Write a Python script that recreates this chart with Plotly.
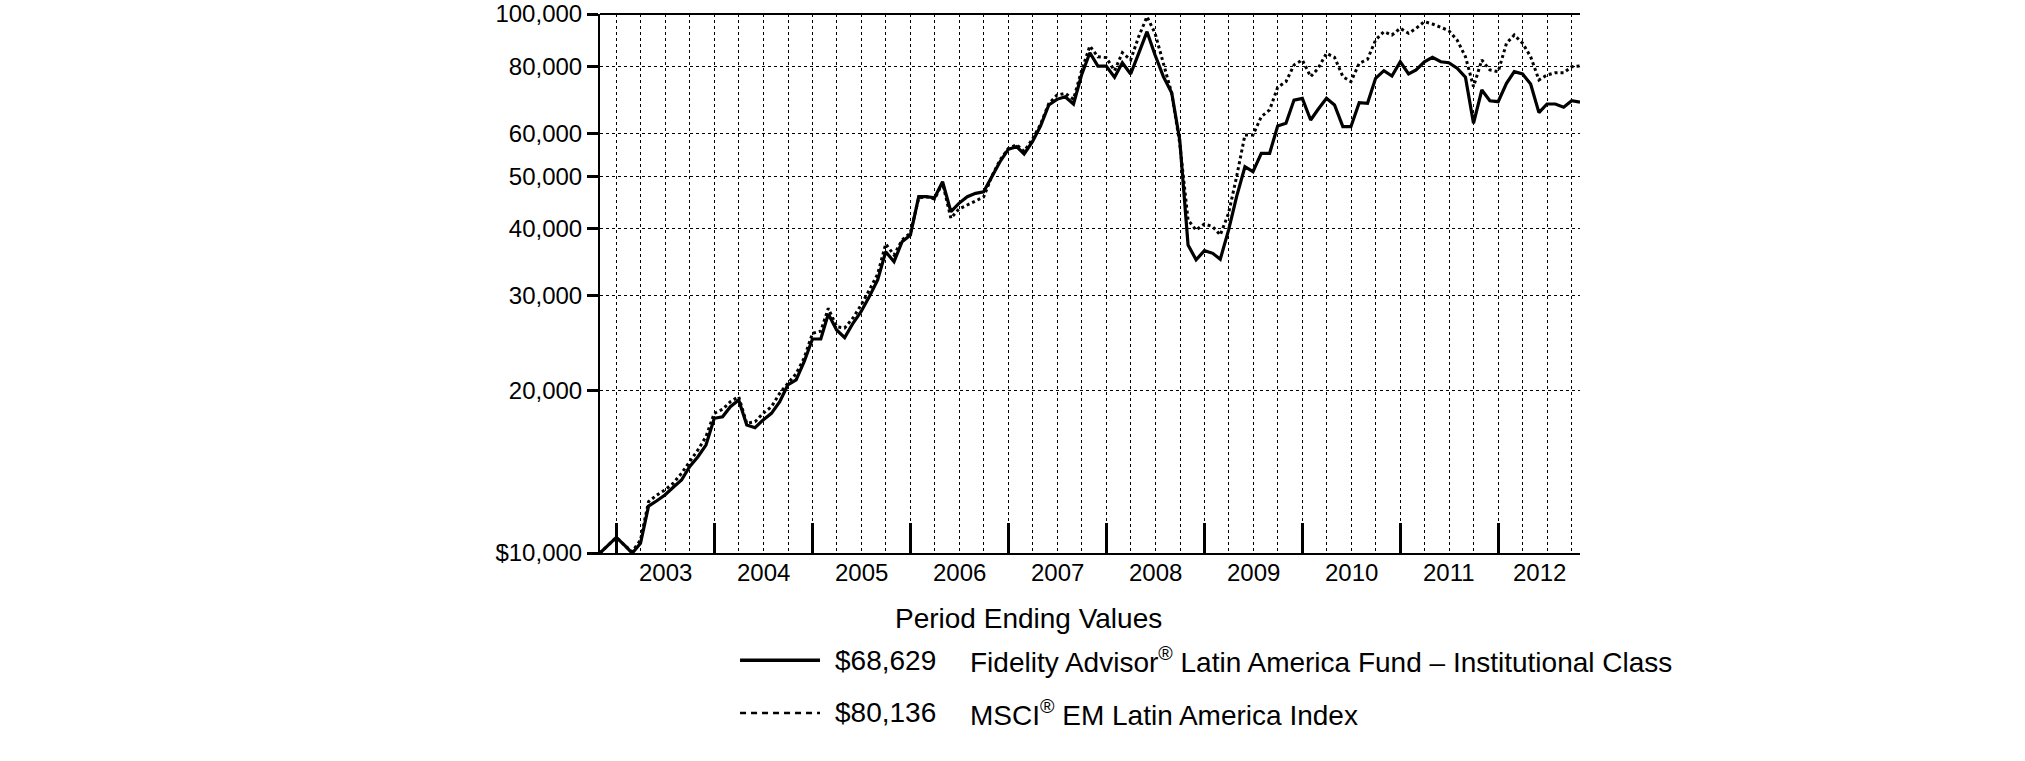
import plotly.graph_objects as go
import pandas as pd

# month-end values, Oct 2002 .. Oct 2012 (hypothetical $10,000 investment)
start_date = "2002-10-31"
end_date = "2012-10-31"

fund_name = "Fidelity Advisor<sup>®</sup> Latin America Fund – Institutional Class"
index_name = "MSCI<sup>®</sup> EM Latin America Index"

fund_values = [
    10000, 10350, 10690, 10330, 9990, 10420, 12220, 12500, 12810, 13240,
    13660, 14460, 15090, 15860, 17780, 17900, 18680, 19230, 17280, 17080,
    17650, 18160, 19090, 20500, 20940, 22640, 24950, 24950, 27760, 25930,
    25090, 26680, 28040, 29900, 32110, 36220, 34710, 37810, 38900, 45820,
    45820, 45600, 48850, 42970, 44540, 45820, 46480, 46800, 50000, 53200,
    56100, 56740, 55000, 57960, 61980, 67790, 69450, 70240, 68080, 77070,
    84760, 80070, 80070, 76310, 81220, 77400, 84540, 92720, 83920, 76520,
    71450, 58400, 37280, 35000, 36380, 35970, 35070, 39730, 45820, 52080,
    51000, 55130, 55130, 61980, 62690, 69230, 69740, 63580, 66570, 69740,
    67790, 61800, 61800, 68460, 68270, 75990, 78500, 76740, 81540, 77400,
    78740, 81540, 83100, 81540, 81220, 79320, 76310, 62690, 72280, 69040,
    68750, 74370, 78170, 77400, 74160, 65620, 68080, 68080, 67140, 69040,
    68629,
]

index_values = [
    10000, 10350, 10690, 10330, 10060, 10570, 12450, 12810, 13090, 13470,
    14060, 14770, 15530, 16440, 18160, 18480, 19090, 19500, 17400, 17520,
    18160, 18680, 19790, 20640, 21500, 23000, 25560, 25800, 28450, 26300,
    26150, 27290, 28840, 30760, 32930, 37440, 35720, 38080, 39240, 45560,
    45820, 45370, 48580, 41780, 43470, 44220, 44990, 45760, 50050, 53590,
    56300, 57200, 55600, 58600, 62400, 68200, 70690, 71270, 69500, 78500,
    87220, 83300, 83000, 78500, 84760, 82160, 90800, 98860, 92090, 81000,
    71270, 57550, 41480, 39730, 40780, 40310, 38900, 42680, 49900, 59660,
    59660, 64500, 66370, 73110, 74900, 80420, 82160, 76520, 79320, 84540,
    83100, 76520, 74900, 81000, 82410, 89480, 92720, 91420, 94060, 92090,
    94060, 96790, 95810, 94470, 93120, 89480, 83330, 73310, 82160, 78740,
    78170, 88240, 91420, 88240, 83330, 75450, 77070, 77830, 77830, 79830,
    80136,
]

y_ticks = [10000, 20000, 30000, 40000, 50000, 60000, 80000, 100000]
y_labels = ["$10,000", "20,000", "30,000", "40,000", "50,000", "60,000", "80,000", "100,000"]
years = ["2003", "2004", "2005", "2006", "2007", "2008", "2009", "2010", "2011", "2012"]

FONT = "Liberation Sans, Arial, Helvetica, sans-serif"

dates = pd.date_range("2002-11-01", periods=len(fund_values), freq="MS") - pd.Timedelta(days=1)

fig = go.Figure()
fig.add_trace(go.Scatter(x=dates, y=index_values, mode="lines",
                         line=dict(color="black", width=3, dash="dot"), showlegend=False))
fig.add_trace(go.Scatter(x=dates, y=fund_values, mode="lines",
                         line=dict(color="black", width=3.2), showlegend=False))

fig.update_xaxes(
    range=[start_date, end_date], automargin=False,
    tick0="2003-01-01", dtick="M12",
    ticks="inside", ticklen=30, tickwidth=2.5, tickcolor="black",
    showticklabels=False,
    showgrid=True, griddash="dot", gridcolor="black", gridwidth=1,
    minor=dict(tick0="2003-01-01", dtick="M3", showgrid=True, griddash="dot",
               gridcolor="black", gridwidth=1, ticks=""),
    showline=True, linecolor="black", linewidth=2,
    zeroline=False,
)
fig.update_yaxes(
    type="log", range=[4, 5], automargin=False,
    tickvals=y_ticks, ticktext=y_labels,
    ticks="outside", ticklen=11, tickwidth=3, tickcolor="black",
    ticklabelstandoff=0,
    showgrid=True, griddash="dot", gridcolor="black", gridwidth=1,
    showline=True, linecolor="black", linewidth=2,
    tickfont=dict(family=FONT, size=24, color="black"),
)

# top border of the plot frame
fig.add_shape(type="line", xref="paper", yref="paper", x0=0, x1=1, y0=1, y1=1,
              line=dict(color="black", width=2))

# year labels centred within each (visible part of the) year
rng_end = pd.Timestamp(end_date)
for yr in years:
    a = pd.Timestamp(f"{yr}-01-01")
    b = min(pd.Timestamp(f"{yr}-12-31"), rng_end)
    fig.add_annotation(x=a + (b - a) / 2, y=-0.037, xref="x", yref="paper",
                       text=yr, showarrow=False, yanchor="middle",
                       font=dict(family=FONT, size=24, color="black"))

# legend block
fig.add_annotation(x=0.299, y=-0.1206, xref="paper", yref="paper",
                   xanchor="left", yanchor="middle",
                   text="Period Ending Values", showarrow=False,
                   font=dict(family=FONT, size=28, color="black"))
rows = [
    (fund_values[-1], fund_name, "solid", 3.5, -0.199),
    (index_values[-1], index_name, "6px,5px", 2.5, -0.2968),
]
for val, name, dash, w, yy in rows:
    fig.add_shape(type="line", xref="paper", yref="paper", x0=0.1429, x1=0.2245, y0=yy, y1=yy,
                  line=dict(color="black", width=w, dash=dash))
    fig.add_annotation(x=0.2378, y=yy, xref="paper", yref="paper",
                       xanchor="left", yanchor="middle",
                       text=f"${val:,}", showarrow=False,
                       font=dict(family=FONT, size=28, color="black"))
    fig.add_annotation(x=0.3755, y=yy, xref="paper", yref="paper",
                       xanchor="left", yanchor="middle",
                       text=name, showarrow=False,
                       font=dict(family=FONT, size=28, color="black"))

fig.update_layout(
    width=2025, height=761,
    margin=dict(l=600, r=445, t=14, b=208),
    paper_bgcolor="white", plot_bgcolor="white",
    font=dict(family=FONT, color="black"),
)

# drop the default body margin so the figure sits at the window's corner
fig.write_html("out.html", config={"displayModeBar": False},
               post_script="document.body.style.margin='0';")
